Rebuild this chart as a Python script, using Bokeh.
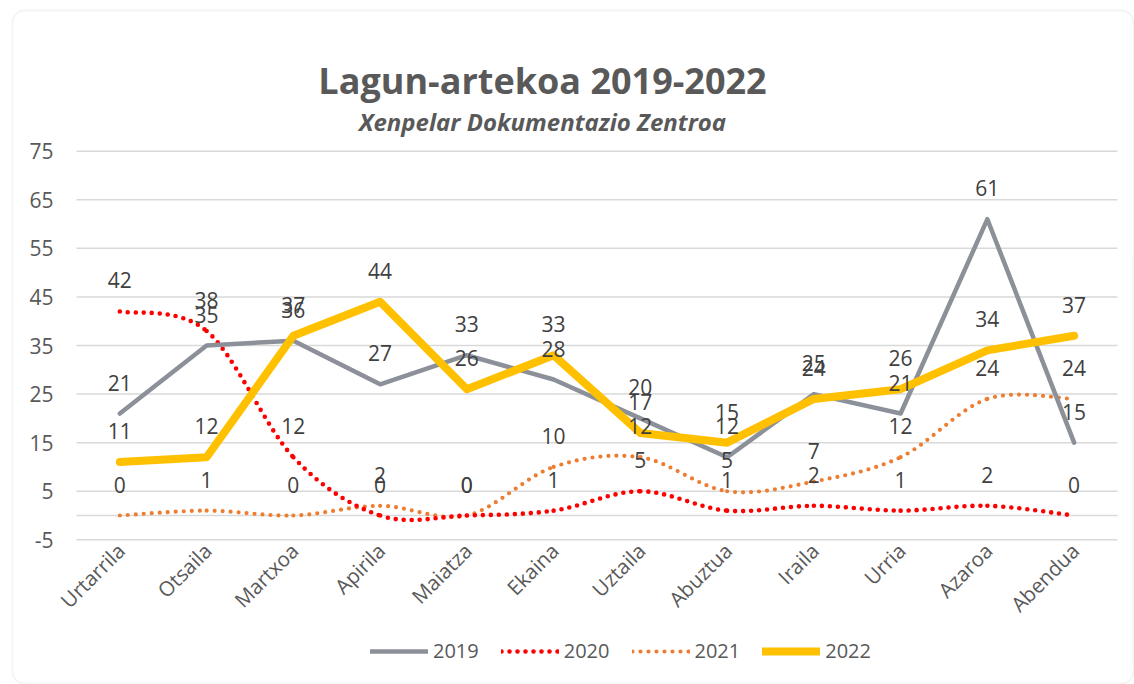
import math
from bokeh.plotting import figure
from bokeh.models import (Range1d, LabelSet, Label, ColumnDataSource, Legend, LegendItem,
                          BoxAnnotation)
from bokeh.core.properties import value
from bokeh.embed import file_html
from bokeh.resources import INLINE

# ---- data ----
months = ["Urtarrila", "Otsaila", "Martxoa", "Apirila", "Maiatza", "Ekaina",
          "Uztaila", "Abuztua", "Iraila", "Urria", "Azaroa", "Abendua"]
v2019 = [21, 35, 36, 27, 33, 28, 20, 12, 25, 21, 61, 15]
v2020 = [42, 38, 12, 0, 0, 1, 5, 1, 2, 1, 2, 0]
v2021 = [0, 1, 0, 2, 0, 10, 12, 5, 7, 12, 24, 24]
v2022 = [11, 12, 37, 44, 26, 33, 17, 15, 24, 26, 34, 37]
y_ticks = [-5, 5, 15, 25, 35, 45, 55, 65, 75]
series_names = ["2019", "2020", "2021", "2022"]
title_text = "Lagun-artekoa 2019-2022"
subtitle_text = "Xenpelar Dokumentazio Zentroa"

FONT = "Open Sans"
GRID = "#d9d9d9"
W, H = 1134, 684

# ---- layout: the plot frame covers the whole canvas ----
idx = list(range(len(months)))           # category positions
ymin, ymax = y_ticks[0], y_ticks[-1]
plot_left, plot_right, plot_top, plot_bottom = 76, 1117, 150.7, 539.3   # pixels
ppx = (plot_right - plot_left) / len(months)
ppy = (plot_bottom - plot_top) / (ymax - ymin)
x_start = -0.5 - plot_left / ppx
x_end = len(months) - 0.5 + (W - plot_right) / ppx
y_end = ymax + plot_top / ppy
y_start = ymin - (H - plot_bottom) / ppy


def X(px):
    return x_start + px / ppx


def Y(py):
    return y_end - py / ppy


p = figure(width=W, height=H, x_range=Range1d(x_start, x_end), y_range=Range1d(y_start, y_end),
           output_backend="svg", toolbar_location=None, title=None,
           x_axis_type=None, y_axis_type=None,
           min_border=0, min_border_left=0, min_border_right=0, min_border_top=0, min_border_bottom=0)
p.outline_line_color = None
p.background_fill_color = "white"
p.border_fill_color = "white"
p.grid.visible = False

# grid lines (category extent) and the zero axis line
p.segment(x0=[-0.5] * len(y_ticks), x1=[len(months) - 0.5] * len(y_ticks), y0=y_ticks, y1=y_ticks,
          line_color=GRID, line_width=1.5)
p.segment(x0=[-0.5], x1=[len(months) - 0.5], y0=[0], y1=[0], line_color=GRID, line_width=1.5)

# y tick labels
p.add_layout(LabelSet(x="x", y="y", text="t",
                      source=ColumnDataSource(dict(x=[X(53)] * len(y_ticks), y=y_ticks,
                                                   t=[str(v) for v in y_ticks])),
                      text_align="right", text_baseline="middle", text_font=value(FONT),
                      text_font_size="21px", text_color="#595959"))

# category labels (rotated)
p.add_layout(LabelSet(x="x", y="y", text="t",
                      source=ColumnDataSource(dict(x=idx, y=[ymin] * len(months), t=months)),
                      angle=math.pi / 4, x_offset=1, y_offset=-7,
                      text_align="right", text_baseline="middle", text_font=value(FONT),
                      text_font_size="20.5px", text_color="#595959"))


def smooth(vals):
    n = len(vals)
    xs = idx
    d = dict(x0=[], y0=[], x1=[], y1=[], cx0=[], cy0=[], cx1=[], cy1=[])
    for i in range(n - 1):
        xm, ym = (xs[i - 1], vals[i - 1]) if i > 0 else (xs[i], vals[i])
        xp, yp = (xs[i + 2], vals[i + 2]) if i + 2 < n else (xs[i + 1], vals[i + 1])
        d["x0"].append(xs[i]); d["y0"].append(vals[i])
        d["x1"].append(xs[i + 1]); d["y1"].append(vals[i + 1])
        d["cx0"].append(xs[i] + (xs[i + 1] - xm) / 6)
        d["cy0"].append(vals[i] + (vals[i + 1] - ym) / 6)
        d["cx1"].append(xs[i + 1] - (xp - xs[i]) / 6)
        d["cy1"].append(vals[i + 1] - (yp - vals[i]) / 6)
    return ColumnDataSource(d)


r2021 = p.bezier(x0="x0", y0="y0", x1="x1", y1="y1", cx0="cx0", cy0="cy0", cx1="cx1", cy1="cy1",
                 source=smooth(v2021), line_color="#ED7D31", line_width=4.2,
                 line_dash="0 8", line_cap="round")
r2020 = p.bezier(x0="x0", y0="y0", x1="x1", y1="y1", cx0="cx0", cy0="cy0", cx1="cx1", cy1="cy1",
                 source=smooth(v2020), line_color="#FF0000", line_width=4.6,
                 line_dash="0 8", line_cap="round")
r2019 = p.line(idx, v2019, line_color="#8B9099", line_width=4.5, line_join="round", line_cap="round")
r2022 = p.line(idx, v2022, line_color="#FFC000", line_width=8, line_join="round", line_cap="round")

# data labels
for vals in (v2019, v2020, v2021, v2022):
    src = ColumnDataSource(dict(x=idx, y=vals, t=[str(v) for v in vals]))
    p.add_layout(LabelSet(x="x", y="y", text="t", source=src, y_offset=31,
                          text_align="center", text_baseline="middle",
                          text_font=value(FONT), text_font_size="21px", text_color="#404040"))

# titles
p.add_layout(Label(x=X(542), y=Y(80), text=title_text, text_align="center", text_baseline="middle",
                   text_font=FONT, text_font_style="bold", text_font_size="36px", text_color="#595959"))
p.add_layout(Label(x=X(542), y=Y(121), text=subtitle_text, text_align="center", text_baseline="middle",
                   text_font=FONT, text_font_style="bold italic", text_font_size="24px",
                   text_color="#595959"))

# legend
legend = Legend(items=[LegendItem(label=n, renderers=[r]) for n, r in
                       zip(series_names, [r2019, r2020, r2021, r2022])],
                orientation="horizontal", location=(370, H - 664),
                glyph_width=58, glyph_height=22, label_height=22, label_standoff=5, spacing=22,
                padding=0, margin=0, border_line_color=None, background_fill_alpha=0,
                label_text_font=FONT, label_text_font_size="20px", label_text_color="#595959")
p.add_layout(legend)

# chart border
p.add_layout(BoxAnnotation(left=X(12), right=X(1133), top=Y(10), bottom=Y(683),
                           fill_alpha=0, line_color=GRID, line_width=1.8, border_radius=12))

open("out.html", "w").write(file_html(p, INLINE))
